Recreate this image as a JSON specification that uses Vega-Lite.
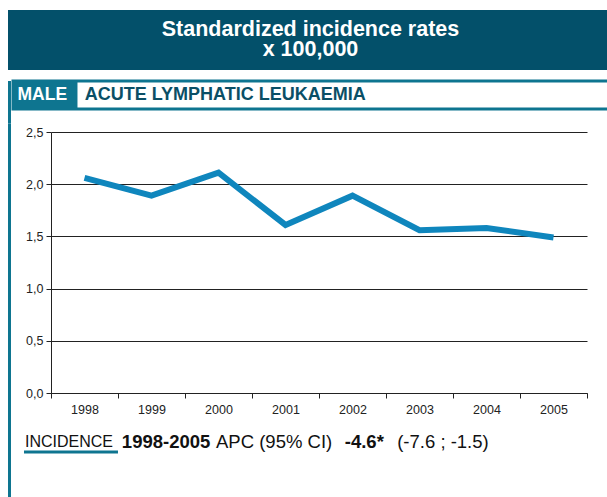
{
  "$schema": "https://vega.github.io/schema/vega-lite/v6.json",
  "padding": {"left": 8, "top": 10, "right": 0, "bottom": 0},
  "background": "white",
  "config": {"view": {"stroke": null}, "font": "Liberation Sans"},
  "spacing": 9,
  "vconcat": [
    {
      "width": 599,
      "height": 60,
      "view": {"fill": "#03506a", "stroke": null},
      "data": {"values": [{"t": "Standardized incidence rates", "line": 1}, {"t": "x 100,000", "line": 2}]},
      "mark": {"type": "text", "color": "white", "fontWeight": "bold", "fontSize": 21.5},
      "encoding": {
        "text": {"field": "t"},
        "y": {"field": "line", "type": "ordinal", "axis": null, "scale": {"padding": 1}},
        "x": {"datum": 0.505, "type": "quantitative", "scale": {"domain": [0, 1]}, "axis": null}
      }
    },
    {
      "spacing": 0,
      "vconcat": [
        {
          "spacing": 0,
          "hconcat": [
            {
              "width": 3,
              "height": 42,
              "data": {"values": [{}]},
              "mark": {"type": "rect", "color": "#0e7590"},
              "encoding": {}
            },
            {
              "width": 597,
              "height": 28,
              "view": {"stroke": "#0e7590", "strokeWidth": 3},
              "data": {"values": [{}]},
              "layer": [
                {
                  "mark": {"type": "rect", "color": "#0e7590"},
                  "encoding": {
                    "x": {"datum": 0, "type": "quantitative", "scale": {"domain": [0, 1]}, "axis": null},
                    "x2": {"datum": 0.108}
                  }
                },
                {
                  "mark": {"type": "text", "text": "MALE", "color": "white", "fontWeight": "bold", "fontSize": 17.5, "align": "left"},
                  "encoding": {"x": {"datum": 0.0075, "type": "quantitative"}}
                },
                {
                  "mark": {"type": "text", "text": "ACUTE LYMPHATIC LEUKAEMIA", "color": "#0a4f66", "fontWeight": "bold", "fontSize": 18, "align": "left"},
                  "encoding": {"x": {"datum": 0.12, "type": "quantitative"}}
                }
              ]
            }
          ]
        },
        {
          "spacing": 0,
          "hconcat": [
            {
              "width": 3,
              "height": 289,
              "data": {"values": [{}]},
              "mark": {"type": "rect", "color": "#0e7590"},
              "encoding": {
                "y": {"datum": 1.03, "type": "quantitative", "scale": {"domain": [0, 1]}, "axis": null},
                "y2": {"datum": 0}
              }
            },
            {
              "width": 536,
              "height": 261,
              "data": {"values": [
                {"year": "1998", "rate": 2.06},
                {"year": "1999", "rate": 1.89},
                {"year": "2000", "rate": 2.11},
                {"year": "2001", "rate": 1.61},
                {"year": "2002", "rate": 1.89},
                {"year": "2003", "rate": 1.56},
                {"year": "2004", "rate": 1.58},
                {"year": "2005", "rate": 1.49}
              ]},
              "mark": {"type": "line", "color": "#0f86bd", "strokeWidth": 6},
              "encoding": {
                "x": {
                  "field": "year", "type": "ordinal",
                  "scale": {"type": "band", "paddingInner": 0, "paddingOuter": 0},
                  "axis": {"title": null, "labelAngle": 0, "tickBand": "extent", "domainColor": "#222", "tickColor": "#222", "labelFontSize": 12.5, "labelColor": "#222", "labelPadding": 5, "tickSize": 5, "grid": false}
                },
                "y": {
                  "field": "rate", "type": "quantitative",
                  "scale": {"domain": [0, 2.5]},
                  "axis": {"title": null, "values": [0, 0.5, 1, 1.5, 2, 2.5], "labelExpr": "replace(format(datum.value, '.1f'), '.', ',')", "gridColor": "#222", "gridOpacity": 1, "domainColor": "#222", "tickColor": "#222", "minExtent": 40, "labelFontSize": 12.5, "labelColor": "#222", "labelPadding": 3}
                }
              }
            }
          ]
        },
        {
          "spacing": 0,
          "hconcat": [
            {
              "width": 3,
              "height": 90,
              "data": {"values": [{}]},
              "mark": {"type": "rect", "color": "#0e7590"},
              "encoding": {}
            },
            {
              "width": 596,
              "height": 40,
              "data": {"values": [{}]},
              "layer": [
                {
                  "mark": {"type": "rule", "color": "#0e7590", "strokeWidth": 3},
                  "encoding": {
                    "x": {"datum": 0.0218, "type": "quantitative", "scale": {"domain": [0, 1]}, "axis": null},
                    "x2": {"datum": 0.1795},
                    "y": {"datum": 0.225, "type": "quantitative", "scale": {"domain": [0, 1]}, "axis": null}
                  }
                },
                {
                  "mark": {"type": "text", "text": "INCIDENCE", "color": "#111", "fontSize": 16, "align": "left"},
                  "encoding": {"x": {"datum": 0.0235, "type": "quantitative"}, "y": {"datum": 0.475, "type": "quantitative"}}
                },
                {
                  "mark": {"type": "text", "text": "1998-2005", "color": "#111", "fontSize": 18.5, "fontWeight": "bold", "align": "left"},
                  "encoding": {"x": {"datum": 0.186, "type": "quantitative"}, "y": {"datum": 0.475, "type": "quantitative"}}
                },
                {
                  "mark": {"type": "text", "text": "APC (95% CI)", "color": "#111", "fontSize": 18.5, "align": "left"},
                  "encoding": {"x": {"datum": 0.344, "type": "quantitative"}, "y": {"datum": 0.475, "type": "quantitative"}}
                },
                {
                  "mark": {"type": "text", "text": "-4.6*", "color": "#111", "fontSize": 18.5, "fontWeight": "bold", "align": "left"},
                  "encoding": {"x": {"datum": 0.56, "type": "quantitative"}, "y": {"datum": 0.475, "type": "quantitative"}}
                },
                {
                  "mark": {"type": "text", "text": "(-7.6 ; -1.5)", "color": "#111", "fontSize": 18.5, "align": "left"},
                  "encoding": {"x": {"datum": 0.648, "type": "quantitative"}, "y": {"datum": 0.475, "type": "quantitative"}}
                }
              ]
            }
          ]
        }
      ]
    }
  ]
}
